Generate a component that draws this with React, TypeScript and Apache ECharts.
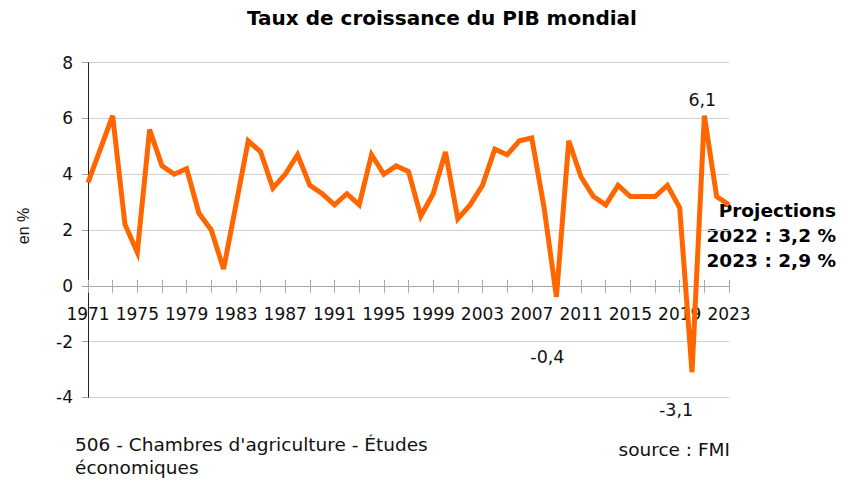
import React, { useEffect, useRef } from "react";
import * as echarts from "echarts";

const years: string[] = [];
for (let y = 1971; y <= 2023; y++) years.push(String(y));

const growth: number[] = [
  3.7, 4.9, 6.1, 2.2, 1.2, 5.6, 4.3, 4.0, 4.2, 2.6,
  2.0, 0.6, 2.9, 5.2, 4.8, 3.5, 4.0, 4.7, 3.6, 3.3,
  2.9, 3.3, 2.9, 4.7, 4.0, 4.3, 4.1, 2.5, 3.3, 4.8,
  2.4, 2.9, 3.6, 4.9, 4.7, 5.2, 5.3, 2.8, -0.4, 5.2,
  3.9, 3.2, 2.9, 3.6, 3.2, 3.2, 3.2, 3.6, 2.8, -3.1,
  6.1, 3.2, 2.9,
];

const yTicks = { min: -4, max: 8, interval: 2 };

const title = "Taux de croissance du PIB mondial";
const yName = "en %";
const footLeft = "506 - Chambres d'agriculture - Études\néconomiques";
const footRight = "source : FMI";
const projection = "Projections\n2022 : 3,2 %\n2023 : 2,9 %";

const FONT = "DejaVu Sans, Verdana, sans-serif";

export default function App() {
  const ref = useRef<HTMLDivElement>(null);
  useEffect(() => {
    if (!ref.current) return;
    const chart = echarts.init(ref.current, undefined, { renderer: "svg" });
    const fmt = (v: number) => String(v).replace(".", ",");
    const markPts = [
      { year: "2021", offset: [-2, -16] },
      { year: "2009", offset: [-9, 60] },
      { year: "2020", offset: [-16, 38] },
    ].map((m) => {
      const i = years.indexOf(m.year);
      return {
        coord: [m.year, growth[i]],
        value: growth[i],
        symbol: "circle",
        symbolSize: 0,
        label: {
          show: true,
          position: "inside",
          offset: m.offset,
          formatter: () => fmt(growth[i]),
          color: "#111",
          fontSize: 17.5,
          fontFamily: FONT,
        },
      };
    });
    const top = 62.7;
    const bottom = 83.7;
    const plotH = 481 - top - bottom;
    const zeroFromBottom = bottom + plotH * ((0 - yTicks.min) / (yTicks.max - yTicks.min));
    chart.setOption({
      animation: false,
      backgroundColor: "#fff",
      title: {
        text: title,
        left: 437,
        textAlign: "center",
        top: 3,
        textStyle: { fontFamily: FONT, fontSize: 20, fontWeight: "bold", color: "#000" },
      },
      grid: [
        { left: 88, right: 114, top, bottom, containLabel: false },
        { left: 88, right: 114, top, bottom: zeroFromBottom, containLabel: false },
      ],
      xAxis: [
        {
          type: "category",
          gridIndex: 0,
          data: years,
          boundaryGap: false,
          show: false,
        },
        {
          type: "category",
          gridIndex: 1,
          data: years,
          boundaryGap: false,
          position: "bottom",
          axisLine: { show: true, onZero: false, lineStyle: { color: "#a6a6a6", width: 1 } },
          axisTick: { show: true, interval: 1, length: 7, lineStyle: { color: "#a6a6a6" } },
          axisLabel: {
            interval: 3,
            margin: 20,
            fontSize: 17,
            fontFamily: FONT,
            color: "#111",
          },
          splitLine: { show: false },
        },
        {
          type: "category",
          gridIndex: 1,
          data: years,
          boundaryGap: false,
          position: "bottom",
          offset: 0,
          axisLine: { show: false, onZero: false },
          axisTick: { show: true, inside: true, interval: 1, length: 6, lineStyle: { color: "#a6a6a6" } },
          axisLabel: { show: false },
          splitLine: { show: false },
        },
      ],
      yAxis: [
        {
          type: "value",
          gridIndex: 0,
          min: yTicks.min,
          max: yTicks.max,
          interval: yTicks.interval,
          axisLine: { show: true, lineStyle: { color: "#222", width: 1 } },
          axisTick: { show: true, length: 6, lineStyle: { color: "#a6a6a6" } },
          axisLabel: { fontSize: 17, fontFamily: FONT, color: "#111", margin: 15 },
          splitLine: { show: true, lineStyle: { color: "#d0d0d0", width: 1 } },
        },
        {
          type: "value",
          gridIndex: 1,
          min: 0,
          max: yTicks.max,
          show: false,
        },
      ],
      series: [
        {
          type: "line",
          data: growth,
          xAxisIndex: 0,
          yAxisIndex: 0,
          showSymbol: false,
          symbol: "none",
          z: 5,
          lineStyle: { color: "#ff6600", width: 5, join: "miter" },
          itemStyle: { color: "#ff6600" },
          markPoint: { data: markPts, animation: false },
        },
      ],
      graphic: [
        {
          type: "text",
          x: 23,
          y: 226,
          rotation: Math.PI / 2,
          style: {
            text: yName,
            font: `16px "Liberation Sans", Arial, sans-serif`,
            fill: "#111",
            textAlign: "center",
            textVerticalAlign: "middle",
          },
        },
        {
          type: "text",
          x: 75,
          y: 432.5,
          style: {
            text: footLeft,
            font: `18.5px ${FONT}`,
            fill: "#111",
            lineHeight: 23,
            textAlign: "left",
          },
        },
        {
          type: "text",
          x: 730,
          y: 449,
          style: {
            text: footRight,
            font: `18.5px ${FONT}`,
            fill: "#111",
            textAlign: "right",
            textVerticalAlign: "middle",
          },
        },
        {
          type: "text",
          x: 836,
          y: 198,
          style: {
            text: projection,
            font: `bold 18.5px ${FONT}`,
            fill: "#000",
            lineHeight: 25,
            textAlign: "right",
          },
        },
      ],
    });
    return () => chart.dispose();
  }, []);
  return <div ref={ref} style={{ width: 843, height: 481, position: "absolute", left: 0, top: 0 }} />;
}
